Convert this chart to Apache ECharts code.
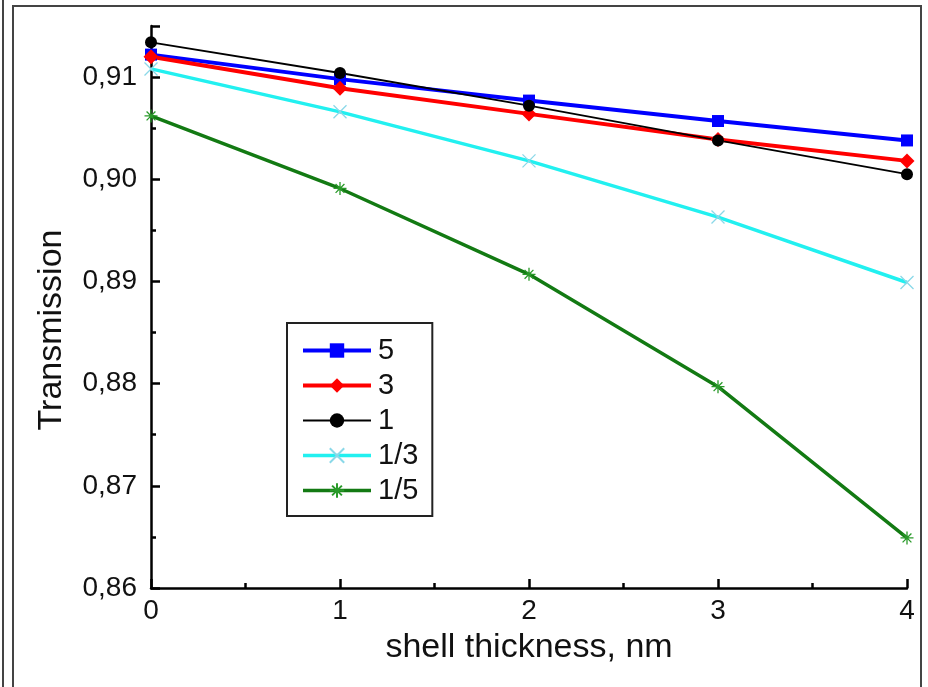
<!DOCTYPE html>
<html>
<head>
<meta charset="utf-8">
<script src="https://cdn.jsdelivr.net/npm/echarts@6/dist/echarts.min.js"></script>
<style>
html,body{margin:0;padding:0;background:#fff;}
#chart{width:928px;height:687px;}
</style>
</head>
<body>
<div id="chart"></div>
<script>
// shell thickness, nm
var thickness = [0, 1, 2, 3, 4];
var seriesNames = ['5', '3', '1', '1/3', '1/5'];
var s5   = [0.9122, 0.9098, 0.9077, 0.9057, 0.9038];
var s3   = [0.9120, 0.9089, 0.9064, 0.9039, 0.9018];
var s1   = [0.9134, 0.9104, 0.9072, 0.9038, 0.9005];
var s13  = [0.9108, 0.9066, 0.9018, 0.8963, 0.8899];
var s15  = [0.9062, 0.8991, 0.8907, 0.8797, 0.8649];
var yTicks = [0.86, 0.87, 0.88, 0.89, 0.90, 0.91];
var xTicks = [0, 1, 2, 3, 4];
var xTitle = 'shell thickness, nm';
var yTitle = 'Transmission';

function pairs(vals){ return thickness.map(function(x,i){ return [x, vals[i]]; }); }

var crossPath = 'path://M0,0L10,10M10,0L0,10';
var starPath = 'path://M5,0L5,10M0,5L10,5M1.6,1.6L8.4,8.4M8.4,1.6L1.6,8.4';

var styles = [
  {color:'#0000ff', width:4, symbol:'rect', size:12, border:0},
  {color:'#ff0000', width:4, symbol:'diamond', size:15, border:0},
  {color:'#000000', width:1.8, symbol:'circle', size:12, border:0},
  {color:'#22f0f0', width:3.5, symbol:crossPath, size:13, border:1.3, scolor:'#8ad8e8'},
  {color:'#137a13', width:3.5, symbol:starPath, size:13, border:1.3, scolor:'#2a9a2a'}
];
var allData = [s5, s3, s1, s13, s15];

var series = allData.map(function(vals, i){
  var st = styles[i];
  return {
    name: seriesNames[i],
    type: 'line',
    data: pairs(vals),
    symbol: st.symbol,
    symbolSize: st.size,
    showAllSymbol: true,
    lineStyle: {color: st.color, width: st.width},
    itemStyle: {
      color: st.border ? (st.scolor || st.color) : st.color,
      borderColor: st.border ? (st.scolor || st.color) : st.color,
      borderWidth: st.border ? st.border : 0
    },
    emphasis: {disabled: true},
    animation: false
  };
});

var legendData = seriesNames.map(function(n, i){
  return {name: n, lineStyle: {width: styles[i].width, color: styles[i].color}};
});

var FONT = 'Liberation Sans, Arial, sans-serif';
var chart = echarts.init(document.getElementById('chart'), null, {renderer:'canvas'});
chart.setOption({
  backgroundColor: '#ffffff',
  animation: false,
  grid: {left: 151, right: 21, top: 26, bottom: 99, containLabel: false},
  xAxis: {
    type: 'value',
    min: xTicks[0], max: xTicks[xTicks.length-1], interval: 1,
    name: xTitle,
    nameLocation: 'middle',
    nameGap: 43,
    nameTextStyle: {fontFamily: FONT, fontSize: 34, color: '#111'},
    axisLine: {show: true, onZero: false, lineStyle: {color: '#000', width: 2.5}},
    axisTick: {show: true, inside: true, length: 9, lineStyle: {color: '#000', width: 2.5}},
    minorTick: {show: true, splitNumber: 2, length: 5, lineStyle: {color: '#000', width: 2.5}},
    axisLabel: {fontFamily: FONT, fontSize: 28, color: '#111', margin: 9},
    splitLine: {show: false}
  },
  yAxis: {
    type: 'value',
    min: yTicks[0], max: 0.915, interval: 0.01,
    axisLine: {show: true, onZero: false, lineStyle: {color: '#000', width: 2.5}},
    axisTick: {show: true, inside: true, length: 9, lineStyle: {color: '#000', width: 2.5}},
    minorTick: {show: true, splitNumber: 2, length: 5, lineStyle: {color: '#000', width: 2.5}},
    axisLabel: {
      fontFamily: FONT, fontSize: 28, color: '#111', margin: 14,
      showMaxLabel: false,
      formatter: function(v){ return v.toFixed(2).replace('.', ','); }
    },
    splitLine: {show: false}
  },
  legend: {
    orient: 'vertical',
    left: 287, top: 323,
    data: legendData,
    itemWidth: 68, itemHeight: 18, itemGap: 6,
    padding: [13, 14, 11, 14],
    borderColor: '#222', borderWidth: 2,
    backgroundColor: '#fff',
    selectedMode: false,
    textStyle: {fontFamily: FONT, fontSize: 29, color: '#111', lineHeight: 28, padding: [0,0,0,2]}
  },
  graphic: [
    {type: 'line', silent: true, shape: {x1: 3, y1: 0, x2: 3, y2: 687}, style: {stroke: '#444', lineWidth: 2}},
    {type: 'rect', silent: true, shape: {x: 13, y: 6, width: 908, height: 700}, style: {fill: 'none', stroke: '#444', lineWidth: 2}},
    {type: 'text', silent: true, x: 52, y: 330, rotation: Math.PI / 2,
     style: {text: yTitle, font: '34px ' + FONT, fill: '#111', align: 'center', verticalAlign: 'middle'}}
  ],
  series: series
});
</script>
</body>
</html>
